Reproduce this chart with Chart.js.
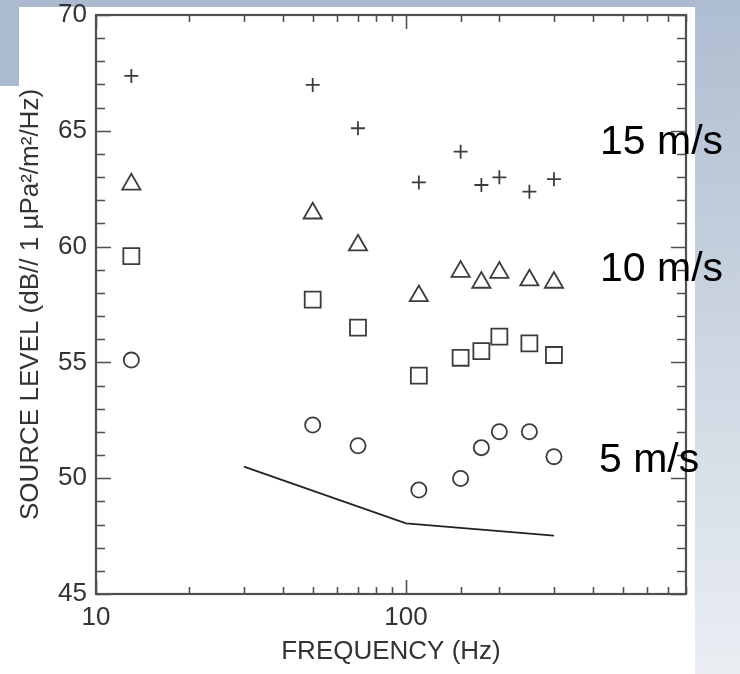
<!DOCTYPE html>
<html>
<head>
<meta charset="utf-8">
<script src="https://cdn.jsdelivr.net/npm/chart.js@4"></script>
<style>
  body { margin: 0; background: #fff; }
  #wrap { position: relative; width: 740px; height: 674px; overflow: hidden; background: #fff; }
  .bg { position: absolute; background: #abbace; }
  #strip-right { left: 695px; top: 0; width: 45px; height: 674px; background: linear-gradient(#aebdd0, #eaeef3); }
  #strip-top { left: 0; top: 0; width: 695px; height: 7px; }
  #block-left { left: 0; top: 0; width: 19px; height: 86px; }
  canvas { position: absolute; left: 0; top: 0; }
  .speed { position: absolute; font-family: 'Liberation Sans', Arial, sans-serif; font-size: 41px; line-height: 41px; color: #000; white-space: nowrap; }
</style>
</head>
<body>
<div id="wrap">
  <div class="bg" id="strip-right"></div>
  <div class="bg" id="strip-top"></div>
  <div class="bg" id="block-left"></div>
  <canvas id="srcChart" width="740" height="674"></canvas>
  <div class="speed" style="left:600px; top:120px;">15 m/s</div>
  <div class="speed" style="left:600px; top:247px;">10 m/s</div>
  <div class="speed" style="left:599px; top:438px;">5 m/s</div>
</div>
<script>
// frequencies (Hz) of the measured points
const freqs = [13, 50, 70, 110, 150, 175, 200, 250, 300];
// source level (dB) per wind speed
const wind15 = [67.37, 66.98, 65.11, 62.77, 64.1, 62.66, 62.99, 62.37, 62.91];
const wind10 = [62.69, 61.44, 60.06, 57.87, 58.92, 58.45, 58.88, 58.55, 58.45];
const wind7 = [59.59, 57.71, 56.5, 54.43, 55.2, 55.49, 56.11, 55.82, 55.32];
const wind5 = [55.1, 52.3, 51.4, 49.49, 49.99, 51.32, 52.01, 52.01, 50.93];
// solid curve
const curveFreqs = [30, 100, 300];
const curveLevels = [50.5, 48.05, 47.52];

const xLabels = [10, 100];

function pts(xs, ys) {
  return xs.map((f, i) => ({x: f, y: ys[i]}));
}

const ink = '#3c3c3c';

function markers(label, data, style, r) {
  return {
    label: label,
    data: pts(freqs, data),
    showLine: false,
    pointStyle: style,
    pointRadius: r,
    pointHoverRadius: r,
    pointBorderColor: ink,
    pointBackgroundColor: 'rgba(0,0,0,0)',
    pointBorderWidth: 1.8
  };
}

// inward ticks on all four sides + frame
const frameTicks = {
  id: 'frameTicks',
  afterDatasetsDraw(chart) {
    const {ctx, chartArea: a, scales: {x, y}} = chart;
    ctx.save();
    ctx.strokeStyle = '#505050';
    ctx.lineWidth = 1.6;
    ctx.beginPath();
    x.ticks.forEach(t => {
      const px = Math.round(x.getPixelForValue(t.value)) + 0.5;
      const major = Math.abs(Math.log10(t.value) % 1) < 1e-9;
      const len = major ? 14 : 7;
      ctx.moveTo(px, a.bottom); ctx.lineTo(px, a.bottom - len);
      ctx.moveTo(px, a.top); ctx.lineTo(px, a.top + len);
    });
    for (let v = y.min; v <= y.max; v++) {
      const py = Math.round(y.getPixelForValue(v)) + 0.5;
      const len = v % 5 === 0 ? 15 : 9;
      ctx.moveTo(a.left, py); ctx.lineTo(a.left + len, py);
      ctx.moveTo(a.right, py); ctx.lineTo(a.right - len, py);
    }
    ctx.stroke();
    ctx.lineWidth = 2.2;
    ctx.strokeRect(a.left, a.top, a.right - a.left, a.bottom - a.top);
    ctx.restore();
  }
};

Chart.defaults.font.family = "'Liberation Sans', Arial, sans-serif";
Chart.defaults.color = '#333';

const ctx = document.getElementById('srcChart').getContext('2d');
new Chart(ctx, {
  type: 'scatter',
  data: {
    datasets: [
      markers('15 m/s', wind15, 'cross', 7),
      markers('10 m/s', wind10, 'triangle', 10.5),
      markers('7.5 m/s', wind7, 'rect', 11.3),
      markers('5 m/s', wind5, 'circle', 7.6),
      {
        label: 'curve',
        data: pts(curveFreqs, curveLevels),
        showLine: true,
        borderColor: '#222',
        borderWidth: 1.8,
        pointRadius: 0,
        fill: false
      }
    ]
  },
  options: {
    responsive: false,
    animation: false,
    devicePixelRatio: 1,
    layout: { padding: { left: 0, right: 54, top: 15, bottom: 0 } },
    plugins: { legend: { display: false }, tooltip: { enabled: false } },
    scales: {
      x: {
        type: 'logarithmic',
        min: 10,
        max: 800,
        grid: { display: false, drawTicks: false },
        border: { display: false },
        ticks: {
          autoSkip: false,
          maxRotation: 0,
          padding: 8,
          font: { size: 26 },
          color: '#333',
          callback: (v) => xLabels.includes(v) ? String(v) : ''
        },
        title: {
          display: true,
          text: 'FREQUENCY (Hz)',
          font: { size: 26 },
          color: '#333',
          padding: { top: 0, bottom: 7 }
        },
        afterFit: (s) => { s.height = 80; s.paddingLeft = 0; s.paddingRight = 0; }
      },
      y: {
        min: 45,
        max: 70,
        grid: { display: false, drawTicks: false },
        border: { display: false },
        ticks: {
          stepSize: 5,
          padding: 9,
          font: { size: 26 },
          color: '#333'
        },
        title: {
          display: true,
          text: 'SOURCE LEVEL (dB// 1 µPa²/m²/Hz)',
          font: { size: 26 },
          color: '#333',
          padding: { top: 15, bottom: 0 }
        },
        afterFit: (s) => { s.width = 96; s.paddingTop = 0; s.paddingBottom = 0; }
      }
    }
  },
  plugins: [frameTicks]
});
</script>
</body>
</html>
